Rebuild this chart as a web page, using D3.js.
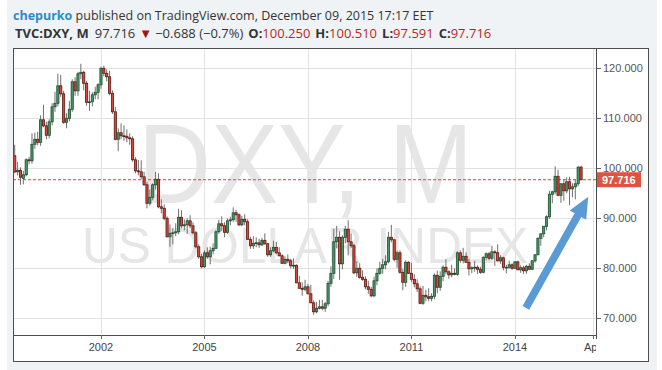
<!DOCTYPE html>
<html><head><meta charset="utf-8">
<script src="https://cdn.jsdelivr.net/npm/d3@7"></script>
<style>
html,body{margin:0;padding:0;background:#fff;}
svg{display:block;}
</style></head><body>
<svg id="chart" width="662" height="370"></svg>
<script>
// ---------- DATA ----------
const firstMonth = "1999-07";   // first monthly bar
const open = [
 102.5, 99.3, 99.6, 98.0, 98.7, 101.7,
 101.5,104.8,105.8,105.2,109.7,108.5,106.6,109.3,112.3,113.0,116.5,114.9,
 109.2,110.0,111.8,117.3,115.5,118.9,119.2,117.0,113.2,113.3,114.7,115.2,
 116.7,120.0,119.0,118.3,115.0,111.3,105.8,107.1,106.5,106.4,106.1,105.9,
 101.7, 99.5, 99.3, 98.3, 96.7, 93.0, 94.2, 96.7, 97.8, 92.3, 92.0, 90.0,
 86.3, 87.0, 87.1, 87.3, 90.2, 88.5, 88.7, 89.5, 88.5, 87.1, 84.3, 82.3,
 80.3, 83.1, 82.3, 83.5, 84.0, 87.3, 88.9, 88.5, 87.2, 89.5, 89.7, 91.1,
 90.7, 88.7, 89.8, 89.3, 85.8, 84.5, 85.0, 85.1, 84.7, 85.6, 84.9, 82.7,
 83.5, 84.2, 83.1, 82.5, 81.0, 81.8, 81.5, 80.5, 80.6, 77.1, 76.0, 75.8,
 76.3, 74.9, 73.1, 71.3, 72.0, 72.3, 72.0, 72.9, 77.0, 79.0, 85.3, 86.2,
 80.9, 86.2, 87.8, 85.3, 84.5, 79.1, 80.0, 78.2, 77.8, 76.3, 75.8, 74.5,
 77.5, 79.0, 80.0, 80.7, 81.3, 86.2, 85.7, 81.8, 83.1, 79.2, 77.2, 81.2,
 79.0, 77.8, 76.9, 75.9, 73.0, 74.6, 74.3, 74.0, 74.4, 78.6, 76.2, 78.4,
 80.2, 79.3, 78.7, 79.0, 78.8, 83.1, 81.6, 82.4, 81.2, 79.9, 80.1, 80.2,
 79.8, 79.2, 82.2, 82.9, 82.0, 83.3, 83.1, 81.5, 82.1, 80.2, 80.2, 80.7,
 80.0, 81.3, 79.7, 80.1, 79.5, 80.4, 79.8, 81.5, 82.7, 86.0, 86.9, 88.4,
 90.3, 94.8, 95.3, 98.4, 94.6, 96.9, 95.5, 97.3, 95.9, 96.3, 96.9, 100.25
];
const high = [
 104.7,101.3,100.2, 99.5,102.0,102.3,
 107.0,107.1,107.3,110.6,112.7,109.3,109.8,113.0,115.3,118.9,118.7,115.5,
 111.0,113.5,117.8,118.2,119.3,120.9,119.5,117.5,115.5,115.2,116.3,117.0,
 120.3,120.5,119.8,119.5,115.6,112.3,108.0,109.0,108.6,107.8,107.0,106.4,
 102.2,101.7,101.6, 99.3, 97.3, 95.8, 97.0, 99.3, 99.0, 93.8, 92.8, 90.4,
 88.8, 88.0, 89.0, 91.9, 91.6, 89.8, 90.0, 90.6, 89.2, 87.5, 84.8, 82.9,
 83.6, 84.2, 84.3, 85.0, 87.6, 89.7, 90.4, 89.2, 90.0, 90.3, 92.2, 91.7,
 91.0, 90.5, 90.8, 89.8, 86.3, 86.4, 86.2, 85.9, 86.1, 87.0, 85.1, 84.2,
 85.5, 85.3, 84.2, 82.8, 82.4, 82.8, 81.9, 82.0, 80.8, 78.5, 77.2, 77.7,
 76.9, 76.7, 73.6, 73.3, 73.7, 73.7, 73.3, 77.5, 80.4, 87.9, 88.5, 87.4,
 86.6, 88.5, 89.6, 87.0, 84.9, 81.4, 81.0, 79.6, 78.4, 77.5, 76.3, 78.3,
 80.0, 81.3, 81.9, 82.6, 87.3, 88.7, 85.9, 83.5, 83.6, 79.9, 81.6, 81.4,
 81.1, 78.8, 77.8, 76.4, 76.5, 75.7, 76.0, 75.0, 79.0, 79.5, 79.4, 80.6,
 81.8, 79.6, 80.7, 80.0, 83.4, 83.6, 84.1, 83.2, 81.9, 80.4, 81.5, 80.6,
 80.3, 82.4, 83.2, 83.3, 84.5, 83.6, 84.8, 82.6, 82.3, 80.7, 81.5, 81.0,
 81.4, 81.5, 80.6, 80.5, 80.7, 81.0, 81.6, 82.8, 86.2, 86.9, 88.4, 90.6,
 95.5, 95.5,100.4, 99.7, 97.0, 97.8, 98.2, 98.3, 97.0, 97.8,100.5,100.51
];
const low = [
 99.0, 98.6, 96.7, 96.8, 98.4,100.8,
 100.9,103.9,104.6,104.5,108.2,105.8,106.0,108.6,111.3,112.4,114.3,108.9,
 108.0,109.4,111.3,114.5,114.5,117.8,115.6,112.5,111.5,112.4,113.8,113.8,
 115.9,118.4,117.4,114.6,110.9,105.6,103.4,105.8,105.5,105.2,104.7,101.3,
 99.0, 98.6, 97.8, 96.5, 92.0, 92.5, 93.6, 95.8, 92.0, 91.0, 89.6, 86.2,
 84.3, 84.8, 86.4, 86.8, 88.0, 87.6, 86.9, 88.0, 86.8, 84.0, 81.9, 80.0,
 80.1, 81.9, 80.8, 82.8, 83.8, 86.9, 87.5, 86.2, 86.9, 88.6, 89.3, 89.3,
 88.4, 88.4, 88.6, 85.7, 83.9, 83.9, 84.2, 84.1, 84.4, 84.7, 82.3, 82.3,
 83.2, 82.8, 82.4, 80.9, 80.8, 81.0, 80.0, 79.9, 77.0, 75.9, 74.5, 75.4,
 74.8, 73.0, 70.7, 71.0, 71.8, 71.6, 71.3, 72.4, 76.3, 77.9, 84.0, 77.7,
 79.8, 85.0, 82.6, 84.0, 78.8, 78.3, 77.9, 77.5, 75.8, 74.9, 74.2, 74.2,
 76.6, 78.7, 78.9, 79.8, 81.0, 85.2, 81.4, 80.1, 78.9, 75.6, 76.3, 78.9,
 77.3, 76.2, 75.3, 72.8, 72.7, 73.4, 73.4, 73.4, 73.8, 75.0, 75.5, 77.4,
 78.8, 77.9, 78.2, 78.6, 78.5, 81.1, 81.0, 81.2, 78.6, 79.0, 79.3, 78.9,
 78.9, 79.0, 81.6, 81.6, 81.7, 80.5, 81.4, 80.9, 79.6, 79.0, 79.9, 79.7,
 79.9, 79.7, 79.1, 78.9, 78.9, 79.7, 79.7, 81.1, 82.6, 84.5, 86.2, 87.6,
 89.9, 93.0, 94.8, 94.4, 93.1, 93.5, 95.0, 92.6, 94.2, 93.8, 96.4, 97.591
];
const close = [
 99.3, 99.6, 98.2, 98.7,101.7,101.5,
 104.8,105.8,105.2,109.7,108.5,106.6,109.3,112.3,113.0,116.5,114.9,109.2,
 110.0,111.8,117.3,115.5,118.9,119.2,117.0,113.2,113.3,114.7,115.2,116.7,
 120.0,119.0,118.3,115.0,111.3,105.8,107.1,106.5,106.4,106.1,105.9,101.7,
 99.5, 99.3, 98.3, 96.7, 93.0, 94.2, 96.7, 97.8, 92.3, 92.0, 90.0, 86.3,
 87.0, 87.1, 87.3, 90.2, 88.5, 88.7, 89.5, 88.5, 87.1, 84.3, 82.3, 80.3,
 83.1, 82.3, 83.5, 84.0, 87.3, 88.9, 88.5, 87.2, 89.5, 89.7, 91.1, 90.7,
 88.7, 89.8, 89.3, 85.8, 84.5, 85.0, 85.1, 84.7, 85.6, 84.9, 82.7, 83.5,
 84.2, 83.1, 82.5, 81.0, 81.8, 81.5, 80.5, 80.6, 77.1, 76.0, 75.8, 76.3,
 74.9, 73.1, 71.3, 72.0, 72.3, 72.0, 72.9, 77.0, 79.0, 85.3, 86.2, 80.9,
 86.2, 87.8, 85.3, 84.5, 79.1, 80.0, 78.2, 77.8, 76.3, 75.8, 74.5, 77.5,
 79.0, 80.0, 80.7, 81.3, 86.2, 85.7, 81.8, 83.1, 79.2, 77.2, 81.2, 79.0,
 77.8, 76.9, 75.9, 73.0, 74.6, 74.3, 74.0, 74.4, 78.6, 76.2, 78.4, 80.2,
 79.3, 78.7, 79.0, 78.8, 83.1, 81.6, 82.4, 81.2, 79.9, 80.1, 80.2, 79.8,
 79.2, 82.2, 82.9, 82.0, 83.3, 83.1, 81.5, 82.1, 80.2, 80.2, 80.7, 80.0,
 81.3, 79.7, 80.1, 79.5, 80.4, 79.8, 81.5, 82.7, 86.0, 86.9, 88.4, 90.3,
 94.8, 95.3, 98.4, 94.6, 96.9, 95.5, 97.3, 95.9, 96.3, 96.9,100.2, 97.716
];
const yTickValues = [70, 80, 90, 100, 110, 120];
const xTickMonths = ["2002-01", "2005-01", "2008-01", "2011-01", "2014-01", "2016-04"];
const xTickLabels = ["2002", "2005", "2008", "2011", "2014", "Apr"];
const lastPrice = 97.716;
// annotation arrow: [month, fractional month offset, value]
const arrowFrom = ["2014-05", -0.2, 72.1];
const arrowTo   = ["2016-02", 0.5, 94.3];
const headerAuthor = "chepurko";
const headerRest = " published on TradingView.com, December 09, 2015 17:17 EET";
const symbolName = "TVC:DXY, M";
const changeText = "\u22120.688 (\u22120.7%)";
const ohlcLabels = ["O:", "H:", "L:", "C:"];
const ohlcValues = ["100.250", "100.510", "97.591", "97.716"];

// ---------- LAYOUT ----------
const W = 662, H = 370;
const frame = {left: 13, top: 48, right: 649, bottom: 362};
const plot = {left: 13, top: 48, right: 596, bottom: 335};

const [fy, fm] = firstMonth.split("-").map(Number);
const monthIndex = s => { const [yy, mm] = s.split("-").map(Number); return (yy - fy) * 12 + (mm - fm); };

const bars = close.map((c, i) => ({i, o: open[i], h: high[i], l: low[i], c}));

const x = d3.scaleLinear().domain([-0.6, 202.2]).range([plot.left, plot.right]);
const y = d3.scaleLinear().domain([66.66, 124.06]).range([plot.bottom, plot.top]);

const svg = d3.select("#chart");
const FONT = "'Liberation Sans', Arial, sans-serif";

// page panel
svg.append("rect").attr("x", 0).attr("y", 0).attr("width", W).attr("height", H).attr("fill", "#fff");
svg.append("rect").attr("x", 7).attr("y", 0).attr("width", 650).attr("height", H).attr("fill", "#f0f3f6");

// header
const h1 = svg.append("text").attr("x", 13).attr("y", 20)
  .attr("font-family", "'Open Sans', sans-serif").attr("font-size", 12.5).attr("fill", "#333");
h1.append("tspan").attr("font-weight", "bold").attr("fill", "#2b8bc6").text(headerAuthor);
h1.append("tspan").text(headerRest);

const h2 = svg.append("text").attr("x", 15).attr("y", 38)
  .attr("font-family", "'Open Sans', sans-serif").attr("font-size", 13).attr("fill", "#333");
h2.append("tspan").attr("font-weight", "bold").text(symbolName);
h2.append("tspan").attr("dx", 6).text(d3.format(".3f")(lastPrice));
h2.append("tspan").attr("dx", 4).attr("fill", "#a31515").text("\u25BC");
h2.append("tspan").attr("dx", 3).text(changeText);
ohlcLabels.forEach((lab, k) => {
  h2.append("tspan").attr("dx", 5).attr("font-weight", "bold").text(lab);
  h2.append("tspan").attr("fill", "#c01f1f").text(ohlcValues[k]);
});

// chart frame background
svg.append("rect").attr("x", frame.left).attr("y", frame.top)
  .attr("width", frame.right - frame.left).attr("height", frame.bottom - frame.top)
  .attr("fill", "#fff");

// clip paths
svg.append("clipPath").attr("id", "plotClip").append("rect")
  .attr("x", plot.left).attr("y", plot.top).attr("width", plot.right - plot.left).attr("height", plot.bottom - plot.top);
svg.append("clipPath").attr("id", "xaxClip").append("rect")
  .attr("x", plot.left).attr("y", plot.bottom).attr("width", plot.right - plot.left).attr("height", frame.bottom - plot.bottom);

const g = svg.append("g").attr("clip-path", "url(#plotClip)");

// watermark
g.append("text").attr("x", 138).attr("y", 203).attr("textLength", 335).attr("lengthAdjust", "spacingAndGlyphs")
  .attr("font-family", FONT).attr("font-size", 114).attr("fill", "#e6e6e6").text("DXY, M");
g.append("text").attr("x", 82).attr("y", 263).attr("textLength", 446).attr("lengthAdjust", "spacingAndGlyphs")
  .attr("font-family", FONT).attr("font-size", 50).attr("fill", "#e6e6e6").text("US DOLLAR INDEX");

// grid
g.selectAll("line.hg").data(yTickValues).join("line").attr("class", "hg")
  .attr("x1", plot.left).attr("x2", plot.right)
  .attr("y1", d => Math.round(y(d)) + 0.5).attr("y2", d => Math.round(y(d)) + 0.5)
  .attr("stroke", "#e2e2e2").attr("stroke-width", 1);
const xTickIdx = xTickMonths.map(monthIndex);
g.selectAll("line.vg").data(xTickIdx).join("line").attr("class", "vg")
  .attr("x1", d => Math.round(x(d)) + 0.5).attr("x2", d => Math.round(x(d)) + 0.5)
  .attr("y1", plot.top).attr("y2", plot.bottom)
  .attr("stroke", "#e2e2e2").attr("stroke-width", 1);

// last price dashed line
g.append("line").attr("x1", plot.left).attr("x2", plot.right)
  .attr("y1", y(lastPrice)).attr("y2", y(lastPrice))
  .attr("stroke", "#e2432f").attr("stroke-width", 1).attr("stroke-dasharray", "3,2");

// candles
const up = d => d.c >= d.o;
const cg = g.append("g");
cg.selectAll("line.wick").data(bars).join("line").attr("class", "wick")
  .attr("x1", d => x(d.i)).attr("x2", d => x(d.i))
  .attr("y1", d => y(d.h)).attr("y2", d => y(d.l))
  .attr("stroke", "#6f6f6f").attr("stroke-width", 1);
cg.selectAll("rect.body").data(bars).join("rect").attr("class", "body")
  .attr("x", d => x(d.i) - 1.1).attr("width", 2.2)
  .attr("y", d => y(Math.max(d.o, d.c)))
  .attr("height", d => Math.max(0.8, Math.abs(y(d.o) - y(d.c))))
  .attr("fill", d => up(d) ? "#4a966a" : "#d8473a")
  .attr("stroke", d => up(d) ? "#1f4f31" : "#5c1a12").attr("stroke-width", 0.8);

// arrow annotation
const ax0 = x(monthIndex(arrowFrom[0]) + arrowFrom[1]), ay0 = y(arrowFrom[2]);
const ax1 = x(monthIndex(arrowTo[0]) + arrowTo[1]), ay1 = y(arrowTo[2]);
(function drawArrow() {
  const dx = ax1 - ax0, dy = ay1 - ay0, L = Math.hypot(dx, dy);
  const ux = dx / L, uy = dy / L, nx = -uy, ny = ux;
  const shaft = 3.8, head = 9.5, headLen = 21;
  const bx = ax1 - ux * headLen, by = ay1 - uy * headLen;
  const pts = [
    [ax0 + nx * shaft, ay0 + ny * shaft],
    [bx + nx * shaft, by + ny * shaft],
    [bx + nx * head, by + ny * head],
    [ax1, ay1],
    [bx - nx * head, by - ny * head],
    [bx - nx * shaft, by - ny * shaft],
    [ax0 - nx * shaft, ay0 - ny * shaft]
  ];
  g.append("path").attr("d", d3.line()(pts) + "Z").attr("fill", "#5b9bd5");
})();

// frame lines
const LC = "#4d4d4d";
svg.append("rect").attr("x", frame.left + 0.5).attr("y", frame.top + 0.5)
  .attr("width", frame.right - frame.left - 1).attr("height", frame.bottom - frame.top - 1)
  .attr("fill", "none").attr("stroke", LC).attr("stroke-width", 1);
svg.append("line").attr("x1", plot.right + 0.5).attr("x2", plot.right + 0.5)
  .attr("y1", plot.top).attr("y2", plot.bottom + 4).attr("stroke", LC);
svg.append("line").attr("x1", plot.left).attr("x2", plot.right + 1)
  .attr("y1", plot.bottom + 0.5).attr("y2", plot.bottom + 0.5).attr("stroke", LC);

// y axis
const yAxis = svg.append("g");
yAxis.selectAll("line").data(yTickValues).join("line")
  .attr("x1", plot.right + 1).attr("x2", plot.right + 5)
  .attr("y1", d => Math.round(y(d)) + 0.5).attr("y2", d => Math.round(y(d)) + 0.5)
  .attr("stroke", "#666");
yAxis.selectAll("text").data(yTickValues).join("text")
  .attr("x", plot.right + 7).attr("y", d => y(d)).attr("dy", "0.35em")
  .attr("font-family", FONT).attr("font-size", 11).attr("fill", "#555")
  .text(d => d3.format(".3f")(d));

// last price badge
svg.append("rect").attr("x", plot.right + 1).attr("y", y(lastPrice) - 7.5)
  .attr("width", 44).attr("height", 15).attr("fill", "#e0533f");
svg.append("text").attr("x", plot.right + 6).attr("y", y(lastPrice)).attr("dy", "0.36em")
  .attr("font-family", FONT).attr("font-size", 11).attr("font-weight", "bold").attr("fill", "#fff")
  .text(d3.format(".3f")(lastPrice));

// x axis
const xAxis = svg.append("g").attr("clip-path", "url(#xaxClip)");
xAxis.selectAll("line").data(xTickIdx).join("line")
  .attr("x1", d => Math.round(x(d)) + 0.5).attr("x2", d => Math.round(x(d)) + 0.5)
  .attr("y1", plot.bottom).attr("y2", plot.bottom + 4).attr("stroke", "#666");
xAxis.selectAll("text").data(xTickIdx).join("text")
  .attr("x", d => x(d)).attr("y", plot.bottom + 12.5).attr("dy", "0.35em")
  .attr("text-anchor", "middle")
  .attr("font-family", FONT).attr("font-size", 11).attr("fill", "#444")
  .text((d, k) => xTickLabels[k]);
</script>
</body></html>
